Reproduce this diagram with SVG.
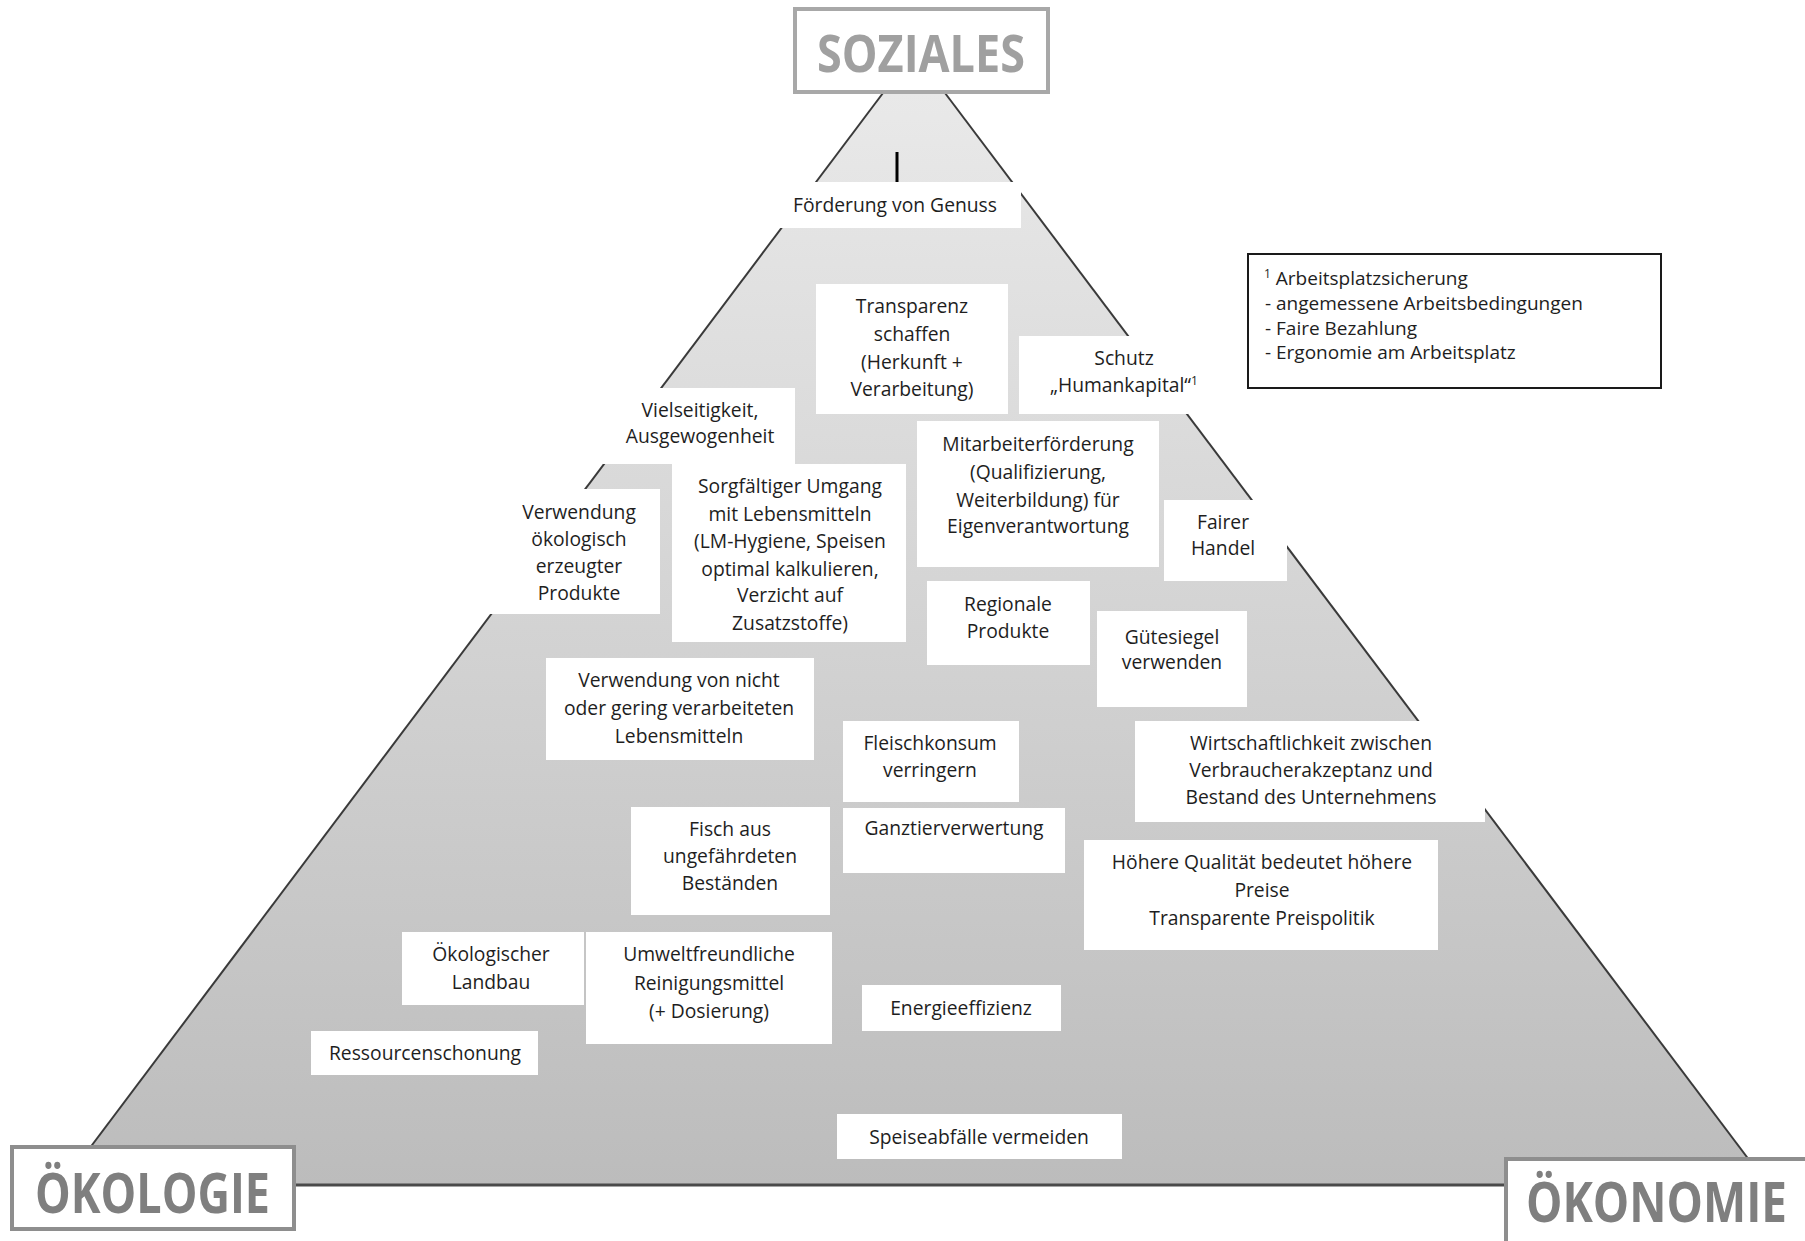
<svg xmlns="http://www.w3.org/2000/svg" width="1805" height="1241" viewBox="0 0 1805 1241">
<defs>
<linearGradient id="pg" x1="0" y1="93" x2="0" y2="1185" gradientUnits="userSpaceOnUse">
<stop offset="0" stop-color="#e9e9e9"/>
<stop offset="1" stop-color="#bcbcbc"/>
</linearGradient>
<style>
.box{fill:#ffffff}
.t{font-family:"Open Sans","Liberation Sans",sans-serif;font-size:19.3px;fill:#1e1e1e;text-anchor:middle}
.fn{font-family:"Open Sans","Liberation Sans",sans-serif;font-size:19px;fill:#1e1e1e}
.sup{font-size:12px}
.edge{stroke:#3a3a3a;stroke-width:2;fill:none}
.lab{fill:#ffffff;stroke-width:4}
.big{font-family:"Open Sans","Liberation Sans",sans-serif;font-weight:bold;text-anchor:start}
</style>
</defs>
<rect width="1805" height="1241" fill="#ffffff"/>

<g id="pyramid">
<polygon points="883,93 945,93 1768,1185 62,1185" fill="url(#pg)"/>
<line class="edge" x1="883" y1="93" x2="62" y2="1185"/>
<line class="edge" x1="945" y1="93" x2="1768" y2="1185"/>
<line x1="62" y1="1185" x2="1768" y2="1185" stroke="#4a4a4a" stroke-width="3"/>
</g>

<g id="connectors">
<line x1="897" y1="152" x2="897" y2="182" stroke="#000" stroke-width="3"/>
</g>

<g id="n-genuss"><rect class="box" x="780" y="182" width="241" height="46"/>
<text class="t" x="895" y="212">Förderung von Genuss</text></g>

<g id="n-transparenz"><rect class="box" x="816" y="284" width="192" height="130"/>
<text class="t"><tspan x="912" y="313">Transparenz</tspan><tspan x="912" y="341">schaffen</tspan><tspan x="912" y="369">(Herkunft +</tspan><tspan x="912" y="396">Verarbeitung)</tspan></text></g>

<g id="n-schutz"><rect class="box" x="1019" y="336" width="169" height="78"/>
<text class="t"><tspan x="1124" y="365">Schutz</tspan><tspan x="1124" y="392">„Humankapital“<tspan class="sup" dy="-7">1</tspan></tspan></text></g>

<g id="n-vielseitigkeit"><rect class="box" x="603" y="388" width="192" height="76"/>
<text class="t"><tspan x="700" y="417">Vielseitigkeit,</tspan><tspan x="700" y="443">Ausgewogenheit</tspan></text></g>

<g id="n-oeko-produkte"><rect class="box" x="490" y="489" width="170" height="125"/>
<text class="t"><tspan x="579" y="519">Verwendung</tspan><tspan x="579" y="546">ökologisch</tspan><tspan x="579" y="573">erzeugter</tspan><tspan x="579" y="600">Produkte</tspan></text></g>

<g id="n-sorgfalt"><rect class="box" x="672" y="464" width="234" height="178"/>
<text class="t"><tspan x="790" y="493">Sorgfältiger Umgang</tspan><tspan x="790" y="521">mit Lebensmitteln</tspan><tspan x="790" y="548">(LM-Hygiene, Speisen</tspan><tspan x="790" y="576">optimal kalkulieren,</tspan><tspan x="790" y="602">Verzicht auf</tspan><tspan x="790" y="630">Zusatzstoffe)</tspan></text></g>

<g id="n-mitarbeiter"><rect class="box" x="917" y="421" width="242" height="146"/>
<text class="t"><tspan x="1038" y="451">Mitarbeiterförderung</tspan><tspan x="1038" y="479">(Qualifizierung,</tspan><tspan x="1038" y="507">Weiterbildung) für</tspan><tspan x="1038" y="533">Eigenverantwortung</tspan></text></g>

<g id="n-fairer-handel"><rect class="box" x="1164" y="500" width="123" height="81"/>
<text class="t"><tspan x="1223" y="529">Fairer</tspan><tspan x="1223" y="555">Handel</tspan></text></g>

<g id="n-regionale"><rect class="box" x="927" y="581" width="163" height="84"/>
<text class="t"><tspan x="1008" y="611">Regionale</tspan><tspan x="1008" y="638">Produkte</tspan></text></g>

<g id="n-guetesiegel"><rect class="box" x="1097" y="611" width="150" height="96"/>
<text class="t"><tspan x="1172" y="644">Gütesiegel</tspan><tspan x="1172" y="669">verwenden</tspan></text></g>

<g id="n-nicht-verarbeitet"><rect class="box" x="546" y="658" width="268" height="102"/>
<text class="t"><tspan x="679" y="687">Verwendung von nicht</tspan><tspan x="679" y="715">oder gering verarbeiteten</tspan><tspan x="679" y="743">Lebensmitteln</tspan></text></g>

<g id="n-fleisch"><rect class="box" x="843" y="721" width="176" height="81"/>
<text class="t"><tspan x="930" y="750">Fleischkonsum</tspan><tspan x="930" y="777">verringern</tspan></text></g>

<g id="n-wirtschaftlichkeit"><rect class="box" x="1135" y="721" width="350" height="101"/>
<text class="t"><tspan x="1311" y="750">Wirtschaftlichkeit zwischen</tspan><tspan x="1311" y="777">Verbraucherakzeptanz und</tspan><tspan x="1311" y="804">Bestand des Unternehmens</tspan></text></g>

<g id="n-ganztier"><rect class="box" x="843" y="808" width="222" height="65"/>
<text class="t" x="954" y="835">Ganztierverwertung</text></g>

<g id="n-fisch"><rect class="box" x="631" y="807" width="199" height="108"/>
<text class="t"><tspan x="730" y="836">Fisch aus</tspan><tspan x="730" y="863">ungefährdeten</tspan><tspan x="730" y="890">Beständen</tspan></text></g>

<g id="n-qualitaet"><rect class="box" x="1084" y="840" width="354" height="110"/>
<text class="t"><tspan x="1262" y="869">Höhere Qualität bedeutet höhere</tspan><tspan x="1262" y="897">Preise</tspan><tspan x="1262" y="925">Transparente Preispolitik</tspan></text></g>

<g id="n-landbau"><rect class="box" x="402" y="932" width="182" height="73"/>
<text class="t"><tspan x="491" y="961">Ökologischer</tspan><tspan x="491" y="989">Landbau</tspan></text></g>

<g id="n-reinigung"><rect class="box" x="586" y="932" width="246" height="112"/>
<text class="t"><tspan x="709" y="961">Umweltfreundliche</tspan><tspan x="709" y="990">Reinigungsmittel</tspan><tspan x="709" y="1018">(+ Dosierung)</tspan></text></g>

<g id="n-energie"><rect class="box" x="862" y="985" width="199" height="46"/>
<text class="t" x="961" y="1015">Energieeffizienz</text></g>

<g id="n-speiseabfaelle"><rect class="box" x="837" y="1114" width="285" height="45"/>
<text class="t" x="979" y="1144">Speiseabfälle vermeiden</text></g>

<g id="n-ressourcen"><rect class="box" x="311" y="1031" width="227" height="44"/>
<text class="t" x="425" y="1060">Ressourcenschonung</text></g>

<g id="n-footnote"><rect x="1248" y="254" width="413" height="134" fill="#ffffff" stroke="#1a1a1a" stroke-width="2"/>
<text class="fn"><tspan x="1264" y="285"><tspan class="sup" dy="-7">1</tspan><tspan dy="7"> Arbeitsplatzsicherung</tspan></tspan><tspan x="1265" y="310">- angemessene Arbeitsbedingungen</tspan><tspan x="1265" y="335">- Faire Bezahlung</tspan><tspan x="1265" y="359">- Ergonomie am Arbeitsplatz</tspan></text></g>

<g id="n-soziales"><rect class="lab" x="795" y="9" width="253" height="83" stroke="#a8a8a8"/>
<text class="big" x="817" y="72" font-size="52" fill="#a0a0a0" textLength="208" lengthAdjust="spacingAndGlyphs">SOZIALES</text></g>

<g id="n-oekologie"><rect class="lab" x="12" y="1147" width="282" height="82" stroke="#8e8e8e"/>
<text class="big" x="35" y="1213" font-size="55" fill="#7f7f7f" textLength="235" lengthAdjust="spacingAndGlyphs">ÖKOLOGIE</text></g>

<g id="n-oekonomie"><rect class="lab" x="1506" y="1159" width="302" height="90" stroke="#8e8e8e"/>
<text class="big" x="1526" y="1222" font-size="55" fill="#7f7f7f" textLength="261" lengthAdjust="spacingAndGlyphs">ÖKONOMIE</text></g>
</svg>
